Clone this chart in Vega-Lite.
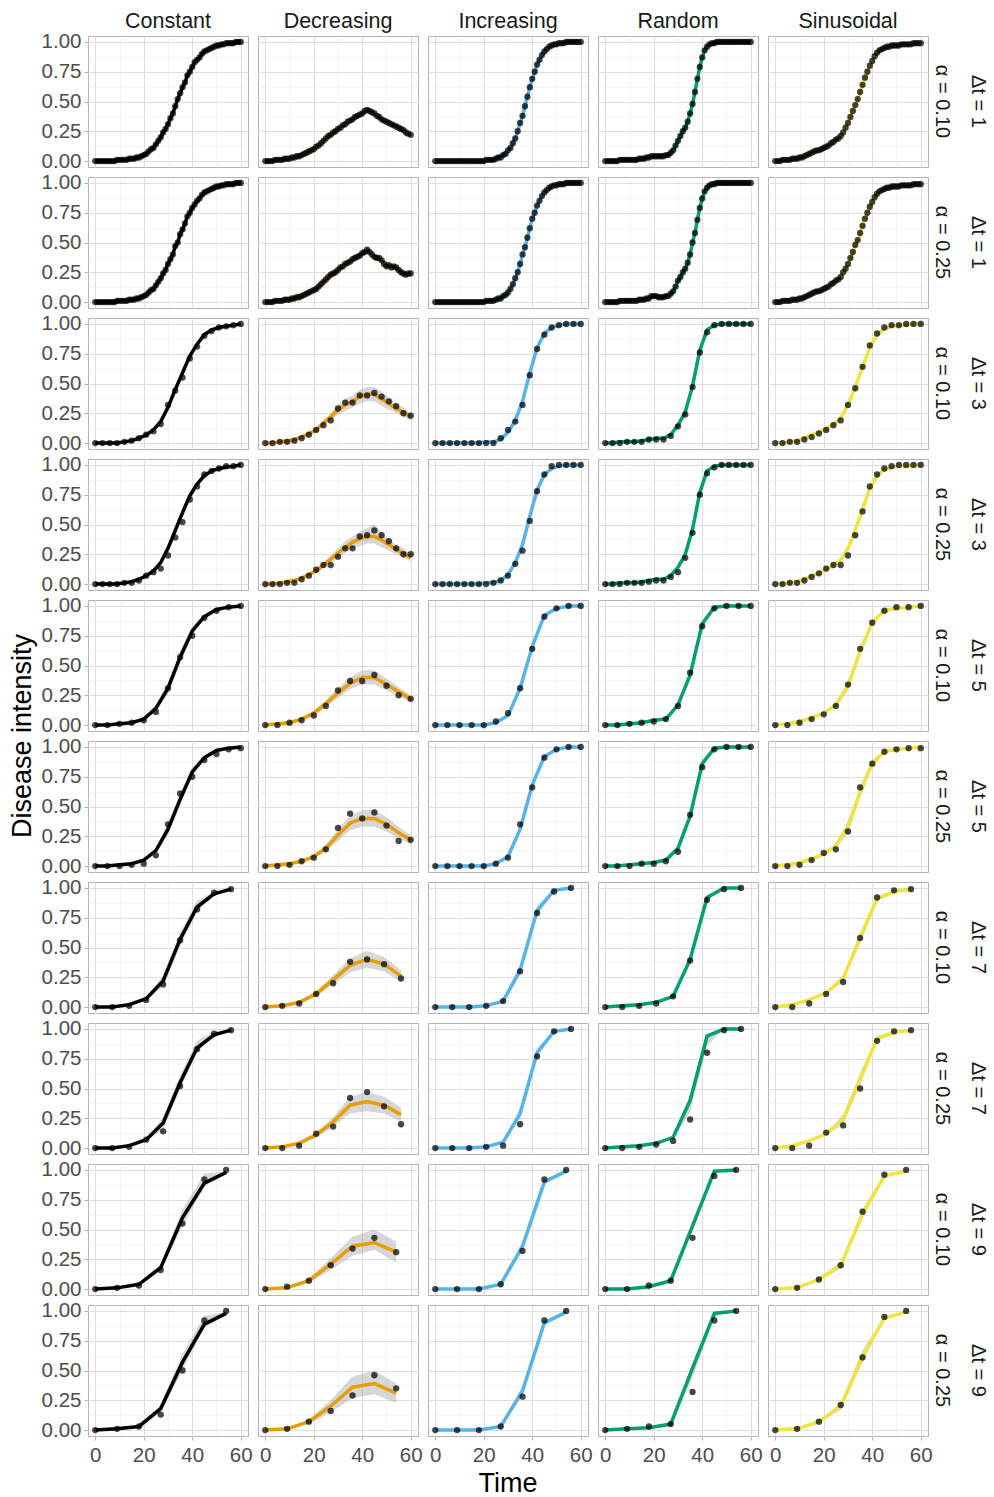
{
"$schema": "https://vega.github.io/schema/vega-lite/v6.json",
"background": "white",
"bounds": "flush",
"padding": {"left": 8, "top": 10, "right": 2, "bottom": 2},
"data": {"values": [
{"r":0,"p":"C","t":0,"y":0},{"r":0,"p":"C","t":1,"y":0},{"r":0,"p":"C","t":2,"y":0},{"r":0,"p":"C","t":3,"y":0},{"r":0,"p":"C","t":4,"y":0},{"r":0,"p":"C","t":5,"y":0},{"r":0,"p":"C","t":6,"y":0},{"r":0,"p":"C","t":7,"y":0},{"r":0,"p":"C","t":8,"y":0},{"r":0,"p":"C","t":9,"y":0.01},{"r":0,"p":"C","t":10,"y":0.01},{"r":0,"p":"C","t":11,"y":0.01},{"r":0,"p":"C","t":12,"y":0.01},{"r":0,"p":"C","t":13,"y":0.01},{"r":0,"p":"C","t":14,"y":0.02},{"r":0,"p":"C","t":15,"y":0.02},{"r":0,"p":"C","t":16,"y":0.02},{"r":0,"p":"C","t":17,"y":0.03},{"r":0,"p":"C","t":18,"y":0.03},{"r":0,"p":"C","t":19,"y":0.04},{"r":0,"p":"C","t":20,"y":0.05},{"r":0,"p":"C","t":21,"y":0.06},{"r":0,"p":"C","t":22,"y":0.08},{"r":0,"p":"C","t":23,"y":0.10},{"r":0,"p":"C","t":24,"y":0.11},{"r":0,"p":"C","t":25,"y":0.14},{"r":0,"p":"C","t":26,"y":0.17},{"r":0,"p":"C","t":27,"y":0.20},{"r":0,"p":"C","t":28,"y":0.24},{"r":0,"p":"C","t":29,"y":0.27},{"r":0,"p":"C","t":30,"y":0.31},{"r":0,"p":"C","t":31,"y":0.36},{"r":0,"p":"C","t":32,"y":0.40},{"r":0,"p":"C","t":33,"y":0.46},{"r":0,"p":"C","t":34,"y":0.52},{"r":0,"p":"C","t":35,"y":0.57},{"r":0,"p":"C","t":36,"y":0.62},{"r":0,"p":"C","t":37,"y":0.66},{"r":0,"p":"C","t":38,"y":0.72},{"r":0,"p":"C","t":39,"y":0.75},{"r":0,"p":"C","t":40,"y":0.79},{"r":0,"p":"C","t":41,"y":0.83},{"r":0,"p":"C","t":42,"y":0.85},{"r":0,"p":"C","t":43,"y":0.87},{"r":0,"p":"C","t":44,"y":0.90},{"r":0,"p":"C","t":45,"y":0.92},{"r":0,"p":"C","t":46,"y":0.93},{"r":0,"p":"C","t":47,"y":0.94},{"r":0,"p":"C","t":48,"y":0.95},{"r":0,"p":"C","t":49,"y":0.96},{"r":0,"p":"C","t":50,"y":0.97},{"r":0,"p":"C","t":51,"y":0.97},{"r":0,"p":"C","t":52,"y":0.98},{"r":0,"p":"C","t":53,"y":0.98},{"r":0,"p":"C","t":54,"y":0.99},{"r":0,"p":"C","t":55,"y":0.99},{"r":0,"p":"C","t":56,"y":0.99},{"r":0,"p":"C","t":57,"y":0.99},{"r":0,"p":"C","t":58,"y":1},{"r":0,"p":"C","t":59,"y":1},{"r":0,"p":"C","t":60,"y":1},
{"r":1,"p":"C","t":0,"y":0},{"r":1,"p":"C","t":1,"y":0},{"r":1,"p":"C","t":2,"y":0},{"r":1,"p":"C","t":3,"y":0},{"r":1,"p":"C","t":4,"y":0},{"r":1,"p":"C","t":5,"y":0},{"r":1,"p":"C","t":6,"y":0},{"r":1,"p":"C","t":7,"y":0},{"r":1,"p":"C","t":8,"y":0},{"r":1,"p":"C","t":9,"y":0.01},{"r":1,"p":"C","t":10,"y":0.01},{"r":1,"p":"C","t":11,"y":0.01},{"r":1,"p":"C","t":12,"y":0.01},{"r":1,"p":"C","t":13,"y":0.01},{"r":1,"p":"C","t":14,"y":0.02},{"r":1,"p":"C","t":15,"y":0.02},{"r":1,"p":"C","t":16,"y":0.02},{"r":1,"p":"C","t":17,"y":0.03},{"r":1,"p":"C","t":18,"y":0.03},{"r":1,"p":"C","t":19,"y":0.04},{"r":1,"p":"C","t":20,"y":0.05},{"r":1,"p":"C","t":21,"y":0.06},{"r":1,"p":"C","t":22,"y":0.08},{"r":1,"p":"C","t":23,"y":0.10},{"r":1,"p":"C","t":24,"y":0.11},{"r":1,"p":"C","t":25,"y":0.14},{"r":1,"p":"C","t":26,"y":0.17},{"r":1,"p":"C","t":27,"y":0.20},{"r":1,"p":"C","t":28,"y":0.24},{"r":1,"p":"C","t":29,"y":0.27},{"r":1,"p":"C","t":30,"y":0.32},{"r":1,"p":"C","t":31,"y":0.36},{"r":1,"p":"C","t":32,"y":0.40},{"r":1,"p":"C","t":33,"y":0.47},{"r":1,"p":"C","t":34,"y":0.50},{"r":1,"p":"C","t":35,"y":0.57},{"r":1,"p":"C","t":36,"y":0.61},{"r":1,"p":"C","t":37,"y":0.66},{"r":1,"p":"C","t":38,"y":0.72},{"r":1,"p":"C","t":39,"y":0.75},{"r":1,"p":"C","t":40,"y":0.79},{"r":1,"p":"C","t":41,"y":0.82},{"r":1,"p":"C","t":42,"y":0.85},{"r":1,"p":"C","t":43,"y":0.87},{"r":1,"p":"C","t":44,"y":0.90},{"r":1,"p":"C","t":45,"y":0.92},{"r":1,"p":"C","t":46,"y":0.93},{"r":1,"p":"C","t":47,"y":0.94},{"r":1,"p":"C","t":48,"y":0.95},{"r":1,"p":"C","t":49,"y":0.96},{"r":1,"p":"C","t":50,"y":0.97},{"r":1,"p":"C","t":51,"y":0.97},{"r":1,"p":"C","t":52,"y":0.98},{"r":1,"p":"C","t":53,"y":0.98},{"r":1,"p":"C","t":54,"y":0.99},{"r":1,"p":"C","t":55,"y":0.99},{"r":1,"p":"C","t":56,"y":0.99},{"r":1,"p":"C","t":57,"y":0.99},{"r":1,"p":"C","t":58,"y":1},{"r":1,"p":"C","t":59,"y":1},{"r":1,"p":"C","t":60,"y":1},
{"r":0,"p":"D","t":0,"y":0},{"r":0,"p":"D","t":1,"y":0},{"r":0,"p":"D","t":2,"y":0},{"r":0,"p":"D","t":3,"y":0},{"r":0,"p":"D","t":4,"y":0.01},{"r":0,"p":"D","t":5,"y":0.01},{"r":0,"p":"D","t":6,"y":0.01},{"r":0,"p":"D","t":7,"y":0.01},{"r":0,"p":"D","t":8,"y":0.02},{"r":0,"p":"D","t":9,"y":0.02},{"r":0,"p":"D","t":10,"y":0.02},{"r":0,"p":"D","t":11,"y":0.03},{"r":0,"p":"D","t":12,"y":0.03},{"r":0,"p":"D","t":13,"y":0.04},{"r":0,"p":"D","t":14,"y":0.04},{"r":0,"p":"D","t":15,"y":0.05},{"r":0,"p":"D","t":16,"y":0.06},{"r":0,"p":"D","t":17,"y":0.07},{"r":0,"p":"D","t":18,"y":0.08},{"r":0,"p":"D","t":19,"y":0.09},{"r":0,"p":"D","t":20,"y":0.10},{"r":0,"p":"D","t":21,"y":0.12},{"r":0,"p":"D","t":22,"y":0.13},{"r":0,"p":"D","t":23,"y":0.15},{"r":0,"p":"D","t":24,"y":0.17},{"r":0,"p":"D","t":25,"y":0.19},{"r":0,"p":"D","t":26,"y":0.21},{"r":0,"p":"D","t":27,"y":0.22},{"r":0,"p":"D","t":28,"y":0.24},{"r":0,"p":"D","t":29,"y":0.25},{"r":0,"p":"D","t":30,"y":0.27},{"r":0,"p":"D","t":31,"y":0.28},{"r":0,"p":"D","t":32,"y":0.30},{"r":0,"p":"D","t":33,"y":0.31},{"r":0,"p":"D","t":34,"y":0.33},{"r":0,"p":"D","t":35,"y":0.34},{"r":0,"p":"D","t":36,"y":0.35},{"r":0,"p":"D","t":37,"y":0.37},{"r":0,"p":"D","t":38,"y":0.38},{"r":0,"p":"D","t":39,"y":0.39},{"r":0,"p":"D","t":40,"y":0.40},{"r":0,"p":"D","t":41,"y":0.42},{"r":0,"p":"D","t":42,"y":0.43},{"r":0,"p":"D","t":43,"y":0.42},{"r":0,"p":"D","t":44,"y":0.41},{"r":0,"p":"D","t":45,"y":0.40},{"r":0,"p":"D","t":46,"y":0.38},{"r":0,"p":"D","t":47,"y":0.37},{"r":0,"p":"D","t":48,"y":0.35},{"r":0,"p":"D","t":49,"y":0.34},{"r":0,"p":"D","t":50,"y":0.33},{"r":0,"p":"D","t":51,"y":0.32},{"r":0,"p":"D","t":52,"y":0.31},{"r":0,"p":"D","t":53,"y":0.30},{"r":0,"p":"D","t":54,"y":0.29},{"r":0,"p":"D","t":55,"y":0.28},{"r":0,"p":"D","t":56,"y":0.27},{"r":0,"p":"D","t":57,"y":0.26},{"r":0,"p":"D","t":58,"y":0.24},{"r":0,"p":"D","t":59,"y":0.23},{"r":0,"p":"D","t":60,"y":0.22},
{"r":1,"p":"D","t":0,"y":0},{"r":1,"p":"D","t":1,"y":0},{"r":1,"p":"D","t":2,"y":0},{"r":1,"p":"D","t":3,"y":0},{"r":1,"p":"D","t":4,"y":0.01},{"r":1,"p":"D","t":5,"y":0.01},{"r":1,"p":"D","t":6,"y":0.01},{"r":1,"p":"D","t":7,"y":0.01},{"r":1,"p":"D","t":8,"y":0.02},{"r":1,"p":"D","t":9,"y":0.02},{"r":1,"p":"D","t":10,"y":0.02},{"r":1,"p":"D","t":11,"y":0.03},{"r":1,"p":"D","t":12,"y":0.03},{"r":1,"p":"D","t":13,"y":0.04},{"r":1,"p":"D","t":14,"y":0.04},{"r":1,"p":"D","t":15,"y":0.05},{"r":1,"p":"D","t":16,"y":0.06},{"r":1,"p":"D","t":17,"y":0.07},{"r":1,"p":"D","t":18,"y":0.08},{"r":1,"p":"D","t":19,"y":0.09},{"r":1,"p":"D","t":20,"y":0.10},{"r":1,"p":"D","t":21,"y":0.11},{"r":1,"p":"D","t":22,"y":0.13},{"r":1,"p":"D","t":23,"y":0.15},{"r":1,"p":"D","t":24,"y":0.17},{"r":1,"p":"D","t":25,"y":0.19},{"r":1,"p":"D","t":26,"y":0.21},{"r":1,"p":"D","t":27,"y":0.23},{"r":1,"p":"D","t":28,"y":0.24},{"r":1,"p":"D","t":29,"y":0.25},{"r":1,"p":"D","t":30,"y":0.27},{"r":1,"p":"D","t":31,"y":0.29},{"r":1,"p":"D","t":32,"y":0.30},{"r":1,"p":"D","t":33,"y":0.32},{"r":1,"p":"D","t":34,"y":0.33},{"r":1,"p":"D","t":35,"y":0.34},{"r":1,"p":"D","t":36,"y":0.36},{"r":1,"p":"D","t":37,"y":0.37},{"r":1,"p":"D","t":38,"y":0.38},{"r":1,"p":"D","t":39,"y":0.39},{"r":1,"p":"D","t":40,"y":0.41},{"r":1,"p":"D","t":41,"y":0.42},{"r":1,"p":"D","t":42,"y":0.44},{"r":1,"p":"D","t":43,"y":0.42},{"r":1,"p":"D","t":44,"y":0.40},{"r":1,"p":"D","t":45,"y":0.38},{"r":1,"p":"D","t":46,"y":0.37},{"r":1,"p":"D","t":47,"y":0.37},{"r":1,"p":"D","t":48,"y":0.35},{"r":1,"p":"D","t":49,"y":0.32},{"r":1,"p":"D","t":50,"y":0.30},{"r":1,"p":"D","t":51,"y":0.31},{"r":1,"p":"D","t":52,"y":0.29},{"r":1,"p":"D","t":53,"y":0.30},{"r":1,"p":"D","t":54,"y":0.29},{"r":1,"p":"D","t":55,"y":0.27},{"r":1,"p":"D","t":56,"y":0.25},{"r":1,"p":"D","t":57,"y":0.24},{"r":1,"p":"D","t":58,"y":0.23},{"r":1,"p":"D","t":59,"y":0.24},{"r":1,"p":"D","t":60,"y":0.24},
{"r":0,"p":"I","t":0,"y":0},{"r":0,"p":"I","t":1,"y":0},{"r":0,"p":"I","t":2,"y":0},{"r":0,"p":"I","t":3,"y":0},{"r":0,"p":"I","t":4,"y":0},{"r":0,"p":"I","t":5,"y":0},{"r":0,"p":"I","t":6,"y":0},{"r":0,"p":"I","t":7,"y":0},{"r":0,"p":"I","t":8,"y":0},{"r":0,"p":"I","t":9,"y":0},{"r":0,"p":"I","t":10,"y":0},{"r":0,"p":"I","t":11,"y":0},{"r":0,"p":"I","t":12,"y":0},{"r":0,"p":"I","t":13,"y":0},{"r":0,"p":"I","t":14,"y":0},{"r":0,"p":"I","t":15,"y":0},{"r":0,"p":"I","t":16,"y":0},{"r":0,"p":"I","t":17,"y":0},{"r":0,"p":"I","t":18,"y":0},{"r":0,"p":"I","t":19,"y":0},{"r":0,"p":"I","t":20,"y":0},{"r":0,"p":"I","t":21,"y":0.01},{"r":0,"p":"I","t":22,"y":0.01},{"r":0,"p":"I","t":23,"y":0.01},{"r":0,"p":"I","t":24,"y":0.01},{"r":0,"p":"I","t":25,"y":0.02},{"r":0,"p":"I","t":26,"y":0.03},{"r":0,"p":"I","t":27,"y":0.03},{"r":0,"p":"I","t":28,"y":0.05},{"r":0,"p":"I","t":29,"y":0.06},{"r":0,"p":"I","t":30,"y":0.09},{"r":0,"p":"I","t":31,"y":0.11},{"r":0,"p":"I","t":32,"y":0.15},{"r":0,"p":"I","t":33,"y":0.19},{"r":0,"p":"I","t":34,"y":0.25},{"r":0,"p":"I","t":35,"y":0.32},{"r":0,"p":"I","t":36,"y":0.38},{"r":0,"p":"I","t":37,"y":0.46},{"r":0,"p":"I","t":38,"y":0.54},{"r":0,"p":"I","t":39,"y":0.62},{"r":0,"p":"I","t":40,"y":0.69},{"r":0,"p":"I","t":41,"y":0.75},{"r":0,"p":"I","t":42,"y":0.81},{"r":0,"p":"I","t":43,"y":0.85},{"r":0,"p":"I","t":44,"y":0.89},{"r":0,"p":"I","t":45,"y":0.92},{"r":0,"p":"I","t":46,"y":0.94},{"r":0,"p":"I","t":47,"y":0.96},{"r":0,"p":"I","t":48,"y":0.97},{"r":0,"p":"I","t":49,"y":0.98},{"r":0,"p":"I","t":50,"y":0.98},{"r":0,"p":"I","t":51,"y":0.99},{"r":0,"p":"I","t":52,"y":0.99},{"r":0,"p":"I","t":53,"y":0.99},{"r":0,"p":"I","t":54,"y":1},{"r":0,"p":"I","t":55,"y":1},{"r":0,"p":"I","t":56,"y":1},{"r":0,"p":"I","t":57,"y":1},{"r":0,"p":"I","t":58,"y":1},{"r":0,"p":"I","t":59,"y":1},{"r":0,"p":"I","t":60,"y":1},
{"r":1,"p":"I","t":0,"y":0},{"r":1,"p":"I","t":1,"y":0},{"r":1,"p":"I","t":2,"y":0},{"r":1,"p":"I","t":3,"y":0},{"r":1,"p":"I","t":4,"y":0},{"r":1,"p":"I","t":5,"y":0},{"r":1,"p":"I","t":6,"y":0},{"r":1,"p":"I","t":7,"y":0},{"r":1,"p":"I","t":8,"y":0},{"r":1,"p":"I","t":9,"y":0},{"r":1,"p":"I","t":10,"y":0},{"r":1,"p":"I","t":11,"y":0},{"r":1,"p":"I","t":12,"y":0},{"r":1,"p":"I","t":13,"y":0},{"r":1,"p":"I","t":14,"y":0},{"r":1,"p":"I","t":15,"y":0},{"r":1,"p":"I","t":16,"y":0},{"r":1,"p":"I","t":17,"y":0},{"r":1,"p":"I","t":18,"y":0},{"r":1,"p":"I","t":19,"y":0},{"r":1,"p":"I","t":20,"y":0},{"r":1,"p":"I","t":21,"y":0.01},{"r":1,"p":"I","t":22,"y":0.01},{"r":1,"p":"I","t":23,"y":0.01},{"r":1,"p":"I","t":24,"y":0.01},{"r":1,"p":"I","t":25,"y":0.02},{"r":1,"p":"I","t":26,"y":0.03},{"r":1,"p":"I","t":27,"y":0.03},{"r":1,"p":"I","t":28,"y":0.05},{"r":1,"p":"I","t":29,"y":0.06},{"r":1,"p":"I","t":30,"y":0.08},{"r":1,"p":"I","t":31,"y":0.11},{"r":1,"p":"I","t":32,"y":0.15},{"r":1,"p":"I","t":33,"y":0.20},{"r":1,"p":"I","t":34,"y":0.25},{"r":1,"p":"I","t":35,"y":0.32},{"r":1,"p":"I","t":36,"y":0.40},{"r":1,"p":"I","t":37,"y":0.46},{"r":1,"p":"I","t":38,"y":0.54},{"r":1,"p":"I","t":39,"y":0.62},{"r":1,"p":"I","t":40,"y":0.70},{"r":1,"p":"I","t":41,"y":0.75},{"r":1,"p":"I","t":42,"y":0.81},{"r":1,"p":"I","t":43,"y":0.85},{"r":1,"p":"I","t":44,"y":0.89},{"r":1,"p":"I","t":45,"y":0.92},{"r":1,"p":"I","t":46,"y":0.94},{"r":1,"p":"I","t":47,"y":0.96},{"r":1,"p":"I","t":48,"y":0.97},{"r":1,"p":"I","t":49,"y":0.98},{"r":1,"p":"I","t":50,"y":0.98},{"r":1,"p":"I","t":51,"y":0.99},{"r":1,"p":"I","t":52,"y":0.99},{"r":1,"p":"I","t":53,"y":0.99},{"r":1,"p":"I","t":54,"y":1},{"r":1,"p":"I","t":55,"y":1},{"r":1,"p":"I","t":56,"y":1},{"r":1,"p":"I","t":57,"y":1},{"r":1,"p":"I","t":58,"y":1},{"r":1,"p":"I","t":59,"y":1},{"r":1,"p":"I","t":60,"y":1},
{"r":0,"p":"R","t":0,"y":0},{"r":0,"p":"R","t":1,"y":0},{"r":0,"p":"R","t":2,"y":0},{"r":0,"p":"R","t":3,"y":0},{"r":0,"p":"R","t":4,"y":0},{"r":0,"p":"R","t":5,"y":0},{"r":0,"p":"R","t":6,"y":0.01},{"r":0,"p":"R","t":7,"y":0.01},{"r":0,"p":"R","t":8,"y":0.01},{"r":0,"p":"R","t":9,"y":0.01},{"r":0,"p":"R","t":10,"y":0.01},{"r":0,"p":"R","t":11,"y":0.01},{"r":0,"p":"R","t":12,"y":0.01},{"r":0,"p":"R","t":13,"y":0.01},{"r":0,"p":"R","t":14,"y":0.02},{"r":0,"p":"R","t":15,"y":0.02},{"r":0,"p":"R","t":16,"y":0.02},{"r":0,"p":"R","t":17,"y":0.03},{"r":0,"p":"R","t":18,"y":0.03},{"r":0,"p":"R","t":19,"y":0.04},{"r":0,"p":"R","t":20,"y":0.04},{"r":0,"p":"R","t":21,"y":0.04},{"r":0,"p":"R","t":22,"y":0.04},{"r":0,"p":"R","t":23,"y":0.04},{"r":0,"p":"R","t":24,"y":0.04},{"r":0,"p":"R","t":25,"y":0.05},{"r":0,"p":"R","t":26,"y":0.05},{"r":0,"p":"R","t":27,"y":0.07},{"r":0,"p":"R","t":28,"y":0.09},{"r":0,"p":"R","t":29,"y":0.13},{"r":0,"p":"R","t":30,"y":0.17},{"r":0,"p":"R","t":31,"y":0.21},{"r":0,"p":"R","t":32,"y":0.25},{"r":0,"p":"R","t":33,"y":0.28},{"r":0,"p":"R","t":34,"y":0.33},{"r":0,"p":"R","t":35,"y":0.40},{"r":0,"p":"R","t":36,"y":0.48},{"r":0,"p":"R","t":37,"y":0.58},{"r":0,"p":"R","t":38,"y":0.69},{"r":0,"p":"R","t":39,"y":0.79},{"r":0,"p":"R","t":40,"y":0.87},{"r":0,"p":"R","t":41,"y":0.93},{"r":0,"p":"R","t":42,"y":0.96},{"r":0,"p":"R","t":43,"y":0.98},{"r":0,"p":"R","t":44,"y":0.99},{"r":0,"p":"R","t":45,"y":0.99},{"r":0,"p":"R","t":46,"y":1},{"r":0,"p":"R","t":47,"y":1},{"r":0,"p":"R","t":48,"y":1},{"r":0,"p":"R","t":49,"y":1},{"r":0,"p":"R","t":50,"y":1},{"r":0,"p":"R","t":51,"y":1},{"r":0,"p":"R","t":52,"y":1},{"r":0,"p":"R","t":53,"y":1},{"r":0,"p":"R","t":54,"y":1},{"r":0,"p":"R","t":55,"y":1},{"r":0,"p":"R","t":56,"y":1},{"r":0,"p":"R","t":57,"y":1},{"r":0,"p":"R","t":58,"y":1},{"r":0,"p":"R","t":59,"y":1},{"r":0,"p":"R","t":60,"y":1},
{"r":1,"p":"R","t":0,"y":0},{"r":1,"p":"R","t":1,"y":0},{"r":1,"p":"R","t":2,"y":0},{"r":1,"p":"R","t":3,"y":0},{"r":1,"p":"R","t":4,"y":0},{"r":1,"p":"R","t":5,"y":0},{"r":1,"p":"R","t":6,"y":0.01},{"r":1,"p":"R","t":7,"y":0.01},{"r":1,"p":"R","t":8,"y":0.01},{"r":1,"p":"R","t":9,"y":0.01},{"r":1,"p":"R","t":10,"y":0.01},{"r":1,"p":"R","t":11,"y":0.01},{"r":1,"p":"R","t":12,"y":0.01},{"r":1,"p":"R","t":13,"y":0.01},{"r":1,"p":"R","t":14,"y":0.02},{"r":1,"p":"R","t":15,"y":0.02},{"r":1,"p":"R","t":16,"y":0.02},{"r":1,"p":"R","t":17,"y":0.03},{"r":1,"p":"R","t":18,"y":0.03},{"r":1,"p":"R","t":19,"y":0.05},{"r":1,"p":"R","t":20,"y":0.05},{"r":1,"p":"R","t":21,"y":0.05},{"r":1,"p":"R","t":22,"y":0.04},{"r":1,"p":"R","t":23,"y":0.04},{"r":1,"p":"R","t":24,"y":0.04},{"r":1,"p":"R","t":25,"y":0.05},{"r":1,"p":"R","t":26,"y":0.05},{"r":1,"p":"R","t":27,"y":0.07},{"r":1,"p":"R","t":28,"y":0.09},{"r":1,"p":"R","t":29,"y":0.13},{"r":1,"p":"R","t":30,"y":0.18},{"r":1,"p":"R","t":31,"y":0.21},{"r":1,"p":"R","t":32,"y":0.25},{"r":1,"p":"R","t":33,"y":0.28},{"r":1,"p":"R","t":34,"y":0.33},{"r":1,"p":"R","t":35,"y":0.40},{"r":1,"p":"R","t":36,"y":0.50},{"r":1,"p":"R","t":37,"y":0.58},{"r":1,"p":"R","t":38,"y":0.69},{"r":1,"p":"R","t":39,"y":0.79},{"r":1,"p":"R","t":40,"y":0.87},{"r":1,"p":"R","t":41,"y":0.93},{"r":1,"p":"R","t":42,"y":0.96},{"r":1,"p":"R","t":43,"y":0.98},{"r":1,"p":"R","t":44,"y":0.99},{"r":1,"p":"R","t":45,"y":0.99},{"r":1,"p":"R","t":46,"y":1},{"r":1,"p":"R","t":47,"y":1},{"r":1,"p":"R","t":48,"y":1},{"r":1,"p":"R","t":49,"y":1},{"r":1,"p":"R","t":50,"y":1},{"r":1,"p":"R","t":51,"y":1},{"r":1,"p":"R","t":52,"y":1},{"r":1,"p":"R","t":53,"y":1},{"r":1,"p":"R","t":54,"y":1},{"r":1,"p":"R","t":55,"y":1},{"r":1,"p":"R","t":56,"y":1},{"r":1,"p":"R","t":57,"y":1},{"r":1,"p":"R","t":58,"y":1},{"r":1,"p":"R","t":59,"y":1},{"r":1,"p":"R","t":60,"y":1},
{"r":0,"p":"S","t":0,"y":0},{"r":0,"p":"S","t":1,"y":0},{"r":0,"p":"S","t":2,"y":0},{"r":0,"p":"S","t":3,"y":0.01},{"r":0,"p":"S","t":4,"y":0.01},{"r":0,"p":"S","t":5,"y":0.01},{"r":0,"p":"S","t":6,"y":0.01},{"r":0,"p":"S","t":7,"y":0.02},{"r":0,"p":"S","t":8,"y":0.02},{"r":0,"p":"S","t":9,"y":0.02},{"r":0,"p":"S","t":10,"y":0.03},{"r":0,"p":"S","t":11,"y":0.03},{"r":0,"p":"S","t":12,"y":0.04},{"r":0,"p":"S","t":13,"y":0.05},{"r":0,"p":"S","t":14,"y":0.06},{"r":0,"p":"S","t":15,"y":0.07},{"r":0,"p":"S","t":16,"y":0.08},{"r":0,"p":"S","t":17,"y":0.09},{"r":0,"p":"S","t":18,"y":0.09},{"r":0,"p":"S","t":19,"y":0.10},{"r":0,"p":"S","t":20,"y":0.11},{"r":0,"p":"S","t":21,"y":0.12},{"r":0,"p":"S","t":22,"y":0.13},{"r":0,"p":"S","t":23,"y":0.15},{"r":0,"p":"S","t":24,"y":0.16},{"r":0,"p":"S","t":25,"y":0.18},{"r":0,"p":"S","t":26,"y":0.19},{"r":0,"p":"S","t":27,"y":0.21},{"r":0,"p":"S","t":28,"y":0.24},{"r":0,"p":"S","t":29,"y":0.28},{"r":0,"p":"S","t":30,"y":0.32},{"r":0,"p":"S","t":31,"y":0.37},{"r":0,"p":"S","t":32,"y":0.42},{"r":0,"p":"S","t":33,"y":0.47},{"r":0,"p":"S","t":34,"y":0.52},{"r":0,"p":"S","t":35,"y":0.58},{"r":0,"p":"S","t":36,"y":0.64},{"r":0,"p":"S","t":37,"y":0.70},{"r":0,"p":"S","t":38,"y":0.75},{"r":0,"p":"S","t":39,"y":0.80},{"r":0,"p":"S","t":40,"y":0.84},{"r":0,"p":"S","t":41,"y":0.88},{"r":0,"p":"S","t":42,"y":0.91},{"r":0,"p":"S","t":43,"y":0.93},{"r":0,"p":"S","t":44,"y":0.94},{"r":0,"p":"S","t":45,"y":0.95},{"r":0,"p":"S","t":46,"y":0.96},{"r":0,"p":"S","t":47,"y":0.96},{"r":0,"p":"S","t":48,"y":0.97},{"r":0,"p":"S","t":49,"y":0.97},{"r":0,"p":"S","t":50,"y":0.97},{"r":0,"p":"S","t":51,"y":0.97},{"r":0,"p":"S","t":52,"y":0.98},{"r":0,"p":"S","t":53,"y":0.98},{"r":0,"p":"S","t":54,"y":0.98},{"r":0,"p":"S","t":55,"y":0.98},{"r":0,"p":"S","t":56,"y":0.98},{"r":0,"p":"S","t":57,"y":0.99},{"r":0,"p":"S","t":58,"y":0.99},{"r":0,"p":"S","t":59,"y":0.99},{"r":0,"p":"S","t":60,"y":0.99},
{"r":1,"p":"S","t":0,"y":0},{"r":1,"p":"S","t":1,"y":0},{"r":1,"p":"S","t":2,"y":0},{"r":1,"p":"S","t":3,"y":0.01},{"r":1,"p":"S","t":4,"y":0.01},{"r":1,"p":"S","t":5,"y":0.01},{"r":1,"p":"S","t":6,"y":0.01},{"r":1,"p":"S","t":7,"y":0.02},{"r":1,"p":"S","t":8,"y":0.02},{"r":1,"p":"S","t":9,"y":0.02},{"r":1,"p":"S","t":10,"y":0.03},{"r":1,"p":"S","t":11,"y":0.03},{"r":1,"p":"S","t":12,"y":0.04},{"r":1,"p":"S","t":13,"y":0.05},{"r":1,"p":"S","t":14,"y":0.06},{"r":1,"p":"S","t":15,"y":0.07},{"r":1,"p":"S","t":16,"y":0.08},{"r":1,"p":"S","t":17,"y":0.09},{"r":1,"p":"S","t":18,"y":0.09},{"r":1,"p":"S","t":19,"y":0.10},{"r":1,"p":"S","t":20,"y":0.11},{"r":1,"p":"S","t":21,"y":0.12},{"r":1,"p":"S","t":22,"y":0.13},{"r":1,"p":"S","t":23,"y":0.15},{"r":1,"p":"S","t":24,"y":0.16},{"r":1,"p":"S","t":25,"y":0.18},{"r":1,"p":"S","t":26,"y":0.19},{"r":1,"p":"S","t":27,"y":0.21},{"r":1,"p":"S","t":28,"y":0.25},{"r":1,"p":"S","t":29,"y":0.28},{"r":1,"p":"S","t":30,"y":0.32},{"r":1,"p":"S","t":31,"y":0.37},{"r":1,"p":"S","t":32,"y":0.42},{"r":1,"p":"S","t":33,"y":0.48},{"r":1,"p":"S","t":34,"y":0.52},{"r":1,"p":"S","t":35,"y":0.58},{"r":1,"p":"S","t":36,"y":0.64},{"r":1,"p":"S","t":37,"y":0.70},{"r":1,"p":"S","t":38,"y":0.75},{"r":1,"p":"S","t":39,"y":0.80},{"r":1,"p":"S","t":40,"y":0.84},{"r":1,"p":"S","t":41,"y":0.88},{"r":1,"p":"S","t":42,"y":0.91},{"r":1,"p":"S","t":43,"y":0.93},{"r":1,"p":"S","t":44,"y":0.94},{"r":1,"p":"S","t":45,"y":0.95},{"r":1,"p":"S","t":46,"y":0.96},{"r":1,"p":"S","t":47,"y":0.96},{"r":1,"p":"S","t":48,"y":0.97},{"r":1,"p":"S","t":49,"y":0.97},{"r":1,"p":"S","t":50,"y":0.97},{"r":1,"p":"S","t":51,"y":0.97},{"r":1,"p":"S","t":52,"y":0.98},{"r":1,"p":"S","t":53,"y":0.98},{"r":1,"p":"S","t":54,"y":0.98},{"r":1,"p":"S","t":55,"y":0.98},{"r":1,"p":"S","t":56,"y":0.98},{"r":1,"p":"S","t":57,"y":0.99},{"r":1,"p":"S","t":58,"y":0.99},{"r":1,"p":"S","t":59,"y":0.99},{"r":1,"p":"S","t":60,"y":0.99},
{"r":2,"p":"C","t":0,"y":0,"f":0,"l":0,"h":0},{"r":2,"p":"C","t":3,"y":0,"f":0,"l":0,"h":0},{"r":2,"p":"C","t":6,"y":0,"f":0,"l":0,"h":0},{"r":2,"p":"C","t":9,"y":0,"f":0,"l":0,"h":0},{"r":2,"p":"C","t":12,"y":0.01,"f":0.01,"l":0.01,"h":0.01},{"r":2,"p":"C","t":15,"y":0.02,"f":0.02,"l":0.02,"h":0.02},{"r":2,"p":"C","t":18,"y":0.04,"f":0.04,"l":0.03,"h":0.05},{"r":2,"p":"C","t":21,"y":0.07,"f":0.07,"l":0.06,"h":0.08},{"r":2,"p":"C","t":24,"y":0.10,"f":0.11,"l":0.10,"h":0.13},{"r":2,"p":"C","t":27,"y":0.16,"f":0.18,"l":0.17,"h":0.20},{"r":2,"p":"C","t":30,"y":0.32,"f":0.30,"l":0.27,"h":0.33},{"r":2,"p":"C","t":33,"y":0.44,"f":0.45,"l":0.42,"h":0.48},{"r":2,"p":"C","t":36,"y":0.55,"f":0.59,"l":0.56,"h":0.62},{"r":2,"p":"C","t":39,"y":0.71,"f":0.73,"l":0.71,"h":0.75},{"r":2,"p":"C","t":42,"y":0.81,"f":0.83,"l":0.82,"h":0.85},{"r":2,"p":"C","t":45,"y":0.90,"f":0.91,"l":0.90,"h":0.92},{"r":2,"p":"C","t":48,"y":0.94,"f":0.95,"l":0.94,"h":0.96},{"r":2,"p":"C","t":51,"y":0.97,"f":0.97,"l":0.97,"h":0.97},{"r":2,"p":"C","t":54,"y":0.98,"f":0.98,"l":0.98,"h":0.98},{"r":2,"p":"C","t":57,"y":0.99,"f":0.99,"l":0.99,"h":0.99},{"r":2,"p":"C","t":60,"y":1,"f":1,"l":1,"h":1},
{"r":2,"p":"D","t":0,"y":0,"f":0,"l":0,"h":0},{"r":2,"p":"D","t":3,"y":0,"f":0,"l":0,"h":0},{"r":2,"p":"D","t":6,"y":0.01,"f":0.01,"l":0.01,"h":0.01},{"r":2,"p":"D","t":9,"y":0.01,"f":0.02,"l":0.02,"h":0.02},{"r":2,"p":"D","t":12,"y":0.02,"f":0.03,"l":0.03,"h":0.03},{"r":2,"p":"D","t":15,"y":0.04,"f":0.05,"l":0.04,"h":0.06},{"r":2,"p":"D","t":18,"y":0.07,"f":0.08,"l":0.07,"h":0.09},{"r":2,"p":"D","t":21,"y":0.11,"f":0.11,"l":0.10,"h":0.12},{"r":2,"p":"D","t":24,"y":0.15,"f":0.17,"l":0.15,"h":0.19},{"r":2,"p":"D","t":27,"y":0.19,"f":0.22,"l":0.19,"h":0.25},{"r":2,"p":"D","t":30,"y":0.29,"f":0.28,"l":0.24,"h":0.32},{"r":2,"p":"D","t":33,"y":0.34,"f":0.32,"l":0.27,"h":0.37},{"r":2,"p":"D","t":36,"y":0.34,"f":0.35,"l":0.30,"h":0.40},{"r":2,"p":"D","t":39,"y":0.40,"f":0.39,"l":0.33,"h":0.45},{"r":2,"p":"D","t":42,"y":0.40,"f":0.41,"l":0.35,"h":0.47},{"r":2,"p":"D","t":45,"y":0.42,"f":0.41,"l":0.35,"h":0.47},{"r":2,"p":"D","t":48,"y":0.39,"f":0.37,"l":0.31,"h":0.43},{"r":2,"p":"D","t":51,"y":0.35,"f":0.33,"l":0.28,"h":0.38},{"r":2,"p":"D","t":54,"y":0.31,"f":0.29,"l":0.25,"h":0.33},{"r":2,"p":"D","t":57,"y":0.25,"f":0.26,"l":0.22,"h":0.30},{"r":2,"p":"D","t":60,"y":0.23,"f":0.22,"l":0.19,"h":0.25},
{"r":2,"p":"I","t":0,"y":0,"f":0,"l":0,"h":0},{"r":2,"p":"I","t":3,"y":0,"f":0,"l":0,"h":0},{"r":2,"p":"I","t":6,"y":0,"f":0,"l":0,"h":0},{"r":2,"p":"I","t":9,"y":0,"f":0,"l":0,"h":0},{"r":2,"p":"I","t":12,"y":0,"f":0,"l":0,"h":0},{"r":2,"p":"I","t":15,"y":0,"f":0,"l":0,"h":0},{"r":2,"p":"I","t":18,"y":0,"f":0,"l":0,"h":0},{"r":2,"p":"I","t":21,"y":0,"f":0.01,"l":0.01,"h":0.01},{"r":2,"p":"I","t":24,"y":0,"f":0.01,"l":0.01,"h":0.01},{"r":2,"p":"I","t":27,"y":0.04,"f":0.03,"l":0.03,"h":0.03},{"r":2,"p":"I","t":30,"y":0.11,"f":0.09,"l":0.08,"h":0.10},{"r":2,"p":"I","t":33,"y":0.18,"f":0.19,"l":0.18,"h":0.20},{"r":2,"p":"I","t":36,"y":0.32,"f":0.35,"l":0.33,"h":0.37},{"r":2,"p":"I","t":39,"y":0.57,"f":0.59,"l":0.57,"h":0.61},{"r":2,"p":"I","t":42,"y":0.79,"f":0.80,"l":0.78,"h":0.82},{"r":2,"p":"I","t":45,"y":0.91,"f":0.92,"l":0.91,"h":0.93},{"r":2,"p":"I","t":48,"y":0.97,"f":0.97,"l":0.97,"h":0.97},{"r":2,"p":"I","t":51,"y":0.99,"f":0.99,"l":0.99,"h":0.99},{"r":2,"p":"I","t":54,"y":1,"f":1,"l":1,"h":1},{"r":2,"p":"I","t":57,"y":1,"f":1,"l":1,"h":1},{"r":2,"p":"I","t":60,"y":1,"f":1,"l":1,"h":1},
{"r":2,"p":"R","t":0,"y":0,"f":0,"l":0,"h":0},{"r":2,"p":"R","t":3,"y":0,"f":0,"l":0,"h":0},{"r":2,"p":"R","t":6,"y":0,"f":0.01,"l":0.01,"h":0.01},{"r":2,"p":"R","t":9,"y":0.01,"f":0.01,"l":0.01,"h":0.01},{"r":2,"p":"R","t":12,"y":0.01,"f":0.01,"l":0.01,"h":0.01},{"r":2,"p":"R","t":15,"y":0.01,"f":0.02,"l":0.02,"h":0.02},{"r":2,"p":"R","t":18,"y":0.03,"f":0.03,"l":0.03,"h":0.03},{"r":2,"p":"R","t":21,"y":0.03,"f":0.04,"l":0.04,"h":0.04},{"r":2,"p":"R","t":24,"y":0.03,"f":0.04,"l":0.04,"h":0.04},{"r":2,"p":"R","t":27,"y":0.06,"f":0.07,"l":0.06,"h":0.08},{"r":2,"p":"R","t":30,"y":0.14,"f":0.15,"l":0.14,"h":0.16},{"r":2,"p":"R","t":33,"y":0.24,"f":0.26,"l":0.24,"h":0.28},{"r":2,"p":"R","t":36,"y":0.47,"f":0.48,"l":0.46,"h":0.50},{"r":2,"p":"R","t":39,"y":0.76,"f":0.78,"l":0.76,"h":0.80},{"r":2,"p":"R","t":42,"y":0.93,"f":0.95,"l":0.94,"h":0.96},{"r":2,"p":"R","t":45,"y":0.99,"f":0.99,"l":0.99,"h":0.99},{"r":2,"p":"R","t":48,"y":1,"f":1,"l":1,"h":1},{"r":2,"p":"R","t":51,"y":1,"f":1,"l":1,"h":1},{"r":2,"p":"R","t":54,"y":1,"f":1,"l":1,"h":1},{"r":2,"p":"R","t":57,"y":1,"f":1,"l":1,"h":1},{"r":2,"p":"R","t":60,"y":1,"f":1,"l":1,"h":1},
{"r":2,"p":"S","t":0,"y":0,"f":0,"l":0,"h":0},{"r":2,"p":"S","t":3,"y":0,"f":0,"l":0,"h":0},{"r":2,"p":"S","t":6,"y":0.01,"f":0.01,"l":0.01,"h":0.01},{"r":2,"p":"S","t":9,"y":0.01,"f":0.02,"l":0.02,"h":0.02},{"r":2,"p":"S","t":12,"y":0.03,"f":0.04,"l":0.04,"h":0.04},{"r":2,"p":"S","t":15,"y":0.05,"f":0.07,"l":0.07,"h":0.07},{"r":2,"p":"S","t":18,"y":0.08,"f":0.09,"l":0.09,"h":0.09},{"r":2,"p":"S","t":21,"y":0.11,"f":0.12,"l":0.11,"h":0.13},{"r":2,"p":"S","t":24,"y":0.15,"f":0.16,"l":0.15,"h":0.17},{"r":2,"p":"S","t":27,"y":0.19,"f":0.21,"l":0.19,"h":0.23},{"r":2,"p":"S","t":30,"y":0.32,"f":0.32,"l":0.30,"h":0.34},{"r":2,"p":"S","t":33,"y":0.46,"f":0.47,"l":0.45,"h":0.49},{"r":2,"p":"S","t":36,"y":0.64,"f":0.64,"l":0.62,"h":0.66},{"r":2,"p":"S","t":39,"y":0.82,"f":0.80,"l":0.78,"h":0.82},{"r":2,"p":"S","t":42,"y":0.92,"f":0.91,"l":0.90,"h":0.92},{"r":2,"p":"S","t":45,"y":0.97,"f":0.96,"l":0.96,"h":0.96},{"r":2,"p":"S","t":48,"y":0.99,"f":0.98,"l":0.98,"h":0.98},{"r":2,"p":"S","t":51,"y":0.99,"f":0.99,"l":0.99,"h":0.99},{"r":2,"p":"S","t":54,"y":1,"f":0.99,"l":0.99,"h":0.99},{"r":2,"p":"S","t":57,"y":1,"f":1,"l":1,"h":1},{"r":2,"p":"S","t":60,"y":1,"f":1,"l":1,"h":1},
{"r":3,"p":"C","t":0,"y":0,"f":0,"l":0,"h":0},{"r":3,"p":"C","t":3,"y":0,"f":0,"l":0,"h":0},{"r":3,"p":"C","t":6,"y":0,"f":0,"l":0,"h":0},{"r":3,"p":"C","t":9,"y":0,"f":0,"l":0,"h":0},{"r":3,"p":"C","t":12,"y":0.01,"f":0.01,"l":0.01,"h":0.01},{"r":3,"p":"C","t":15,"y":0.01,"f":0.02,"l":0.02,"h":0.02},{"r":3,"p":"C","t":18,"y":0.03,"f":0.04,"l":0.03,"h":0.05},{"r":3,"p":"C","t":21,"y":0.07,"f":0.07,"l":0.06,"h":0.08},{"r":3,"p":"C","t":24,"y":0.10,"f":0.11,"l":0.09,"h":0.13},{"r":3,"p":"C","t":27,"y":0.13,"f":0.18,"l":0.16,"h":0.20},{"r":3,"p":"C","t":30,"y":0.24,"f":0.30,"l":0.26,"h":0.34},{"r":3,"p":"C","t":33,"y":0.39,"f":0.45,"l":0.41,"h":0.49},{"r":3,"p":"C","t":36,"y":0.52,"f":0.60,"l":0.56,"h":0.64},{"r":3,"p":"C","t":39,"y":0.71,"f":0.74,"l":0.71,"h":0.77},{"r":3,"p":"C","t":42,"y":0.82,"f":0.84,"l":0.82,"h":0.86},{"r":3,"p":"C","t":45,"y":0.92,"f":0.91,"l":0.90,"h":0.92},{"r":3,"p":"C","t":48,"y":0.95,"f":0.95,"l":0.94,"h":0.96},{"r":3,"p":"C","t":51,"y":0.97,"f":0.97,"l":0.97,"h":0.97},{"r":3,"p":"C","t":54,"y":0.99,"f":0.98,"l":0.98,"h":0.98},{"r":3,"p":"C","t":57,"y":0.99,"f":0.99,"l":0.99,"h":0.99},{"r":3,"p":"C","t":60,"y":1,"f":1,"l":1,"h":1},
{"r":3,"p":"D","t":0,"y":0,"f":0,"l":0,"h":0},{"r":3,"p":"D","t":3,"y":0,"f":0,"l":0,"h":0},{"r":3,"p":"D","t":6,"y":0,"f":0.01,"l":0.01,"h":0.01},{"r":3,"p":"D","t":9,"y":0.01,"f":0.02,"l":0.02,"h":0.02},{"r":3,"p":"D","t":12,"y":0.01,"f":0.03,"l":0.03,"h":0.03},{"r":3,"p":"D","t":15,"y":0.04,"f":0.05,"l":0.04,"h":0.06},{"r":3,"p":"D","t":18,"y":0.07,"f":0.08,"l":0.07,"h":0.09},{"r":3,"p":"D","t":21,"y":0.12,"f":0.11,"l":0.09,"h":0.13},{"r":3,"p":"D","t":24,"y":0.16,"f":0.16,"l":0.14,"h":0.18},{"r":3,"p":"D","t":27,"y":0.16,"f":0.21,"l":0.18,"h":0.24},{"r":3,"p":"D","t":30,"y":0.23,"f":0.26,"l":0.22,"h":0.30},{"r":3,"p":"D","t":33,"y":0.30,"f":0.31,"l":0.26,"h":0.36},{"r":3,"p":"D","t":36,"y":0.30,"f":0.35,"l":0.30,"h":0.40},{"r":3,"p":"D","t":39,"y":0.40,"f":0.38,"l":0.32,"h":0.44},{"r":3,"p":"D","t":42,"y":0.41,"f":0.40,"l":0.34,"h":0.47},{"r":3,"p":"D","t":45,"y":0.45,"f":0.40,"l":0.34,"h":0.50},{"r":3,"p":"D","t":48,"y":0.41,"f":0.37,"l":0.31,"h":0.43},{"r":3,"p":"D","t":51,"y":0.36,"f":0.33,"l":0.28,"h":0.38},{"r":3,"p":"D","t":54,"y":0.30,"f":0.29,"l":0.25,"h":0.33},{"r":3,"p":"D","t":57,"y":0.25,"f":0.26,"l":0.22,"h":0.30},{"r":3,"p":"D","t":60,"y":0.25,"f":0.22,"l":0.19,"h":0.25},
{"r":3,"p":"I","t":0,"y":0,"f":0,"l":0,"h":0},{"r":3,"p":"I","t":3,"y":0,"f":0,"l":0,"h":0},{"r":3,"p":"I","t":6,"y":0,"f":0,"l":0,"h":0},{"r":3,"p":"I","t":9,"y":0,"f":0,"l":0,"h":0},{"r":3,"p":"I","t":12,"y":0,"f":0,"l":0,"h":0},{"r":3,"p":"I","t":15,"y":0,"f":0,"l":0,"h":0},{"r":3,"p":"I","t":18,"y":0,"f":0,"l":0,"h":0},{"r":3,"p":"I","t":21,"y":0,"f":0.01,"l":0.01,"h":0.01},{"r":3,"p":"I","t":24,"y":0.01,"f":0.01,"l":0.01,"h":0.01},{"r":3,"p":"I","t":27,"y":0.03,"f":0.03,"l":0.03,"h":0.03},{"r":3,"p":"I","t":30,"y":0.07,"f":0.08,"l":0.07,"h":0.09},{"r":3,"p":"I","t":33,"y":0.17,"f":0.18,"l":0.16,"h":0.20},{"r":3,"p":"I","t":36,"y":0.28,"f":0.33,"l":0.30,"h":0.36},{"r":3,"p":"I","t":39,"y":0.53,"f":0.57,"l":0.54,"h":0.60},{"r":3,"p":"I","t":42,"y":0.78,"f":0.79,"l":0.77,"h":0.81},{"r":3,"p":"I","t":45,"y":0.92,"f":0.92,"l":0.91,"h":0.93},{"r":3,"p":"I","t":48,"y":0.99,"f":0.97,"l":0.97,"h":0.97},{"r":3,"p":"I","t":51,"y":1,"f":0.99,"l":0.99,"h":0.99},{"r":3,"p":"I","t":54,"y":1,"f":1,"l":1,"h":1},{"r":3,"p":"I","t":57,"y":1,"f":1,"l":1,"h":1},{"r":3,"p":"I","t":60,"y":1,"f":1,"l":1,"h":1},
{"r":3,"p":"R","t":0,"y":0,"f":0,"l":0,"h":0},{"r":3,"p":"R","t":3,"y":0,"f":0,"l":0,"h":0},{"r":3,"p":"R","t":6,"y":0,"f":0.01,"l":0.01,"h":0.01},{"r":3,"p":"R","t":9,"y":0.01,"f":0.01,"l":0.01,"h":0.01},{"r":3,"p":"R","t":12,"y":0.01,"f":0.01,"l":0.01,"h":0.01},{"r":3,"p":"R","t":15,"y":0.01,"f":0.02,"l":0.02,"h":0.02},{"r":3,"p":"R","t":18,"y":0.02,"f":0.03,"l":0.03,"h":0.03},{"r":3,"p":"R","t":21,"y":0.03,"f":0.04,"l":0.04,"h":0.04},{"r":3,"p":"R","t":24,"y":0.03,"f":0.04,"l":0.04,"h":0.04},{"r":3,"p":"R","t":27,"y":0.06,"f":0.07,"l":0.06,"h":0.08},{"r":3,"p":"R","t":30,"y":0.10,"f":0.14,"l":0.13,"h":0.15},{"r":3,"p":"R","t":33,"y":0.22,"f":0.25,"l":0.23,"h":0.27},{"r":3,"p":"R","t":36,"y":0.43,"f":0.46,"l":0.43,"h":0.49},{"r":3,"p":"R","t":39,"y":0.75,"f":0.77,"l":0.75,"h":0.79},{"r":3,"p":"R","t":42,"y":0.93,"f":0.95,"l":0.94,"h":0.96},{"r":3,"p":"R","t":45,"y":0.98,"f":0.99,"l":0.99,"h":0.99},{"r":3,"p":"R","t":48,"y":1,"f":1,"l":1,"h":1},{"r":3,"p":"R","t":51,"y":1,"f":1,"l":1,"h":1},{"r":3,"p":"R","t":54,"y":1,"f":1,"l":1,"h":1},{"r":3,"p":"R","t":57,"y":1,"f":1,"l":1,"h":1},{"r":3,"p":"R","t":60,"y":1,"f":1,"l":1,"h":1},
{"r":3,"p":"S","t":0,"y":0,"f":0,"l":0,"h":0},{"r":3,"p":"S","t":3,"y":0,"f":0,"l":0,"h":0},{"r":3,"p":"S","t":6,"y":0.01,"f":0.01,"l":0.01,"h":0.01},{"r":3,"p":"S","t":9,"y":0.01,"f":0.02,"l":0.02,"h":0.02},{"r":3,"p":"S","t":12,"y":0.03,"f":0.04,"l":0.04,"h":0.04},{"r":3,"p":"S","t":15,"y":0.06,"f":0.07,"l":0.07,"h":0.07},{"r":3,"p":"S","t":18,"y":0.09,"f":0.09,"l":0.09,"h":0.09},{"r":3,"p":"S","t":21,"y":0.13,"f":0.12,"l":0.11,"h":0.13},{"r":3,"p":"S","t":24,"y":0.16,"f":0.16,"l":0.15,"h":0.17},{"r":3,"p":"S","t":27,"y":0.16,"f":0.20,"l":0.18,"h":0.22},{"r":3,"p":"S","t":30,"y":0.24,"f":0.30,"l":0.27,"h":0.33},{"r":3,"p":"S","t":33,"y":0.41,"f":0.45,"l":0.42,"h":0.48},{"r":3,"p":"S","t":36,"y":0.61,"f":0.63,"l":0.60,"h":0.66},{"r":3,"p":"S","t":39,"y":0.82,"f":0.80,"l":0.78,"h":0.82},{"r":3,"p":"S","t":42,"y":0.92,"f":0.91,"l":0.90,"h":0.92},{"r":3,"p":"S","t":45,"y":0.97,"f":0.96,"l":0.96,"h":0.96},{"r":3,"p":"S","t":48,"y":0.99,"f":0.98,"l":0.98,"h":0.98},{"r":3,"p":"S","t":51,"y":1,"f":0.99,"l":0.99,"h":0.99},{"r":3,"p":"S","t":54,"y":1,"f":0.99,"l":0.99,"h":0.99},{"r":3,"p":"S","t":57,"y":1,"f":1,"l":1,"h":1},{"r":3,"p":"S","t":60,"y":1,"f":1,"l":1,"h":1},
{"r":4,"p":"C","t":0,"y":0,"f":0,"l":0,"h":0},{"r":4,"p":"C","t":5,"y":0,"f":0,"l":0,"h":0},{"r":4,"p":"C","t":10,"y":0.01,"f":0.01,"l":0.01,"h":0.01},{"r":4,"p":"C","t":15,"y":0.02,"f":0.02,"l":0.02,"h":0.02},{"r":4,"p":"C","t":20,"y":0.04,"f":0.05,"l":0.04,"h":0.06},{"r":4,"p":"C","t":25,"y":0.11,"f":0.14,"l":0.12,"h":0.17},{"r":4,"p":"C","t":30,"y":0.31,"f":0.31,"l":0.26,"h":0.36},{"r":4,"p":"C","t":35,"y":0.57,"f":0.57,"l":0.52,"h":0.62},{"r":4,"p":"C","t":40,"y":0.75,"f":0.79,"l":0.75,"h":0.83},{"r":4,"p":"C","t":45,"y":0.90,"f":0.91,"l":0.90,"h":0.93},{"r":4,"p":"C","t":50,"y":0.96,"f":0.97,"l":0.96,"h":0.98},{"r":4,"p":"C","t":55,"y":0.99,"f":0.99,"l":0.99,"h":0.99},{"r":4,"p":"C","t":60,"y":1,"f":1,"l":1,"h":1},
{"r":4,"p":"D","t":0,"y":0,"f":0,"l":0,"h":0},{"r":4,"p":"D","t":5,"y":0,"f":0.01,"l":0.01,"h":0.01},{"r":4,"p":"D","t":10,"y":0.02,"f":0.02,"l":0.02,"h":0.02},{"r":4,"p":"D","t":15,"y":0.04,"f":0.05,"l":0.04,"h":0.06},{"r":4,"p":"D","t":20,"y":0.08,"f":0.10,"l":0.08,"h":0.12},{"r":4,"p":"D","t":25,"y":0.16,"f":0.18,"l":0.15,"h":0.21},{"r":4,"p":"D","t":30,"y":0.29,"f":0.27,"l":0.23,"h":0.31},{"r":4,"p":"D","t":35,"y":0.37,"f":0.35,"l":0.30,"h":0.40},{"r":4,"p":"D","t":40,"y":0.37,"f":0.40,"l":0.34,"h":0.46},{"r":4,"p":"D","t":45,"y":0.42,"f":0.40,"l":0.34,"h":0.46},{"r":4,"p":"D","t":50,"y":0.33,"f":0.34,"l":0.29,"h":0.39},{"r":4,"p":"D","t":55,"y":0.25,"f":0.28,"l":0.24,"h":0.32},{"r":4,"p":"D","t":60,"y":0.22,"f":0.22,"l":0.19,"h":0.25},
{"r":4,"p":"I","t":0,"y":0,"f":0,"l":0,"h":0},{"r":4,"p":"I","t":5,"y":0,"f":0,"l":0,"h":0},{"r":4,"p":"I","t":10,"y":0,"f":0,"l":0,"h":0},{"r":4,"p":"I","t":15,"y":0,"f":0,"l":0,"h":0},{"r":4,"p":"I","t":20,"y":0,"f":0,"l":0,"h":0},{"r":4,"p":"I","t":25,"y":0.03,"f":0.02,"l":0.02,"h":0.02},{"r":4,"p":"I","t":30,"y":0.10,"f":0.08,"l":0.07,"h":0.09},{"r":4,"p":"I","t":35,"y":0.31,"f":0.31,"l":0.28,"h":0.34},{"r":4,"p":"I","t":40,"y":0.64,"f":0.66,"l":0.63,"h":0.69},{"r":4,"p":"I","t":45,"y":0.91,"f":0.92,"l":0.91,"h":0.93},{"r":4,"p":"I","t":50,"y":0.98,"f":0.98,"l":0.98,"h":0.98},{"r":4,"p":"I","t":55,"y":1,"f":1,"l":1,"h":1},{"r":4,"p":"I","t":60,"y":1,"f":1,"l":1,"h":1},
{"r":4,"p":"R","t":0,"y":0,"f":0,"l":0,"h":0},{"r":4,"p":"R","t":5,"y":0,"f":0,"l":0,"h":0},{"r":4,"p":"R","t":10,"y":0.01,"f":0.01,"l":0.01,"h":0.01},{"r":4,"p":"R","t":15,"y":0.02,"f":0.02,"l":0.02,"h":0.02},{"r":4,"p":"R","t":20,"y":0.03,"f":0.04,"l":0.04,"h":0.04},{"r":4,"p":"R","t":25,"y":0.05,"f":0.05,"l":0.05,"h":0.05},{"r":4,"p":"R","t":30,"y":0.16,"f":0.17,"l":0.16,"h":0.18},{"r":4,"p":"R","t":35,"y":0.44,"f":0.42,"l":0.39,"h":0.45},{"r":4,"p":"R","t":40,"y":0.83,"f":0.85,"l":0.83,"h":0.87},{"r":4,"p":"R","t":45,"y":0.98,"f":0.99,"l":0.99,"h":0.99},{"r":4,"p":"R","t":50,"y":1,"f":1,"l":1,"h":1},{"r":4,"p":"R","t":55,"y":1,"f":1,"l":1,"h":1},{"r":4,"p":"R","t":60,"y":1,"f":1,"l":1,"h":1},
{"r":4,"p":"S","t":0,"y":0,"f":0,"l":0,"h":0},{"r":4,"p":"S","t":5,"y":0,"f":0.01,"l":0.01,"h":0.01},{"r":4,"p":"S","t":10,"y":0.02,"f":0.03,"l":0.03,"h":0.03},{"r":4,"p":"S","t":15,"y":0.05,"f":0.06,"l":0.06,"h":0.06},{"r":4,"p":"S","t":20,"y":0.09,"f":0.10,"l":0.09,"h":0.11},{"r":4,"p":"S","t":25,"y":0.16,"f":0.17,"l":0.15,"h":0.19},{"r":4,"p":"S","t":30,"y":0.34,"f":0.33,"l":0.29,"h":0.37},{"r":4,"p":"S","t":35,"y":0.64,"f":0.62,"l":0.58,"h":0.66},{"r":4,"p":"S","t":40,"y":0.86,"f":0.86,"l":0.84,"h":0.88},{"r":4,"p":"S","t":45,"y":0.96,"f":0.96,"l":0.95,"h":0.97},{"r":4,"p":"S","t":50,"y":0.99,"f":0.98,"l":0.98,"h":0.98},{"r":4,"p":"S","t":55,"y":0.99,"f":0.99,"l":0.99,"h":0.99},{"r":4,"p":"S","t":60,"y":1,"f":1,"l":1,"h":1},
{"r":5,"p":"C","t":0,"y":0,"f":0,"l":0,"h":0},{"r":5,"p":"C","t":5,"y":0,"f":0,"l":0,"h":0},{"r":5,"p":"C","t":10,"y":0,"f":0.01,"l":0.01,"h":0.01},{"r":5,"p":"C","t":15,"y":0.01,"f":0.02,"l":0.02,"h":0.02},{"r":5,"p":"C","t":20,"y":0.02,"f":0.05,"l":0.04,"h":0.06},{"r":5,"p":"C","t":25,"y":0.09,"f":0.13,"l":0.11,"h":0.15},{"r":5,"p":"C","t":30,"y":0.35,"f":0.31,"l":0.26,"h":0.36},{"r":5,"p":"C","t":35,"y":0.61,"f":0.56,"l":0.51,"h":0.61},{"r":5,"p":"C","t":40,"y":0.75,"f":0.79,"l":0.75,"h":0.83},{"r":5,"p":"C","t":45,"y":0.89,"f":0.91,"l":0.90,"h":0.92},{"r":5,"p":"C","t":50,"y":0.94,"f":0.97,"l":0.96,"h":0.98},{"r":5,"p":"C","t":55,"y":0.98,"f":0.99,"l":0.99,"h":0.99},{"r":5,"p":"C","t":60,"y":0.99,"f":1,"l":1,"h":1},
{"r":5,"p":"D","t":0,"y":0,"f":0,"l":0,"h":0},{"r":5,"p":"D","t":5,"y":0,"f":0.01,"l":0.01,"h":0.01},{"r":5,"p":"D","t":10,"y":0.01,"f":0.02,"l":0.02,"h":0.02},{"r":5,"p":"D","t":15,"y":0.04,"f":0.04,"l":0.03,"h":0.05},{"r":5,"p":"D","t":20,"y":0.07,"f":0.08,"l":0.07,"h":0.09},{"r":5,"p":"D","t":25,"y":0.14,"f":0.15,"l":0.12,"h":0.18},{"r":5,"p":"D","t":30,"y":0.32,"f":0.26,"l":0.21,"h":0.31},{"r":5,"p":"D","t":35,"y":0.44,"f":0.36,"l":0.30,"h":0.42},{"r":5,"p":"D","t":40,"y":0.40,"f":0.40,"l":0.33,"h":0.47},{"r":5,"p":"D","t":45,"y":0.45,"f":0.40,"l":0.33,"h":0.47},{"r":5,"p":"D","t":50,"y":0.34,"f":0.35,"l":0.29,"h":0.41},{"r":5,"p":"D","t":55,"y":0.21,"f":0.28,"l":0.23,"h":0.33},{"r":5,"p":"D","t":60,"y":0.22,"f":0.22,"l":0.18,"h":0.26},
{"r":5,"p":"I","t":0,"y":0,"f":0,"l":0,"h":0},{"r":5,"p":"I","t":5,"y":0,"f":0,"l":0,"h":0},{"r":5,"p":"I","t":10,"y":0,"f":0,"l":0,"h":0},{"r":5,"p":"I","t":15,"y":0,"f":0,"l":0,"h":0},{"r":5,"p":"I","t":20,"y":0,"f":0,"l":0,"h":0},{"r":5,"p":"I","t":25,"y":0.02,"f":0.02,"l":0.02,"h":0.02},{"r":5,"p":"I","t":30,"y":0.07,"f":0.08,"l":0.07,"h":0.09},{"r":5,"p":"I","t":35,"y":0.35,"f":0.31,"l":0.28,"h":0.34},{"r":5,"p":"I","t":40,"y":0.66,"f":0.68,"l":0.65,"h":0.71},{"r":5,"p":"I","t":45,"y":0.91,"f":0.92,"l":0.91,"h":0.93},{"r":5,"p":"I","t":50,"y":0.98,"f":0.98,"l":0.98,"h":0.98},{"r":5,"p":"I","t":55,"y":1,"f":1,"l":1,"h":1},{"r":5,"p":"I","t":60,"y":1,"f":1,"l":1,"h":1},
{"r":5,"p":"R","t":0,"y":0,"f":0,"l":0,"h":0},{"r":5,"p":"R","t":5,"y":0,"f":0,"l":0,"h":0},{"r":5,"p":"R","t":10,"y":0,"f":0.01,"l":0.01,"h":0.01},{"r":5,"p":"R","t":15,"y":0.02,"f":0.02,"l":0.02,"h":0.02},{"r":5,"p":"R","t":20,"y":0.02,"f":0.03,"l":0.03,"h":0.03},{"r":5,"p":"R","t":25,"y":0.04,"f":0.05,"l":0.05,"h":0.05},{"r":5,"p":"R","t":30,"y":0.12,"f":0.15,"l":0.14,"h":0.16},{"r":5,"p":"R","t":35,"y":0.43,"f":0.42,"l":0.39,"h":0.45},{"r":5,"p":"R","t":40,"y":0.83,"f":0.86,"l":0.84,"h":0.88},{"r":5,"p":"R","t":45,"y":0.98,"f":0.99,"l":0.99,"h":0.99},{"r":5,"p":"R","t":50,"y":1,"f":1,"l":1,"h":1},{"r":5,"p":"R","t":55,"y":1,"f":1,"l":1,"h":1},{"r":5,"p":"R","t":60,"y":1,"f":1,"l":1,"h":1},
{"r":5,"p":"S","t":0,"y":0,"f":0,"l":0,"h":0},{"r":5,"p":"S","t":5,"y":0,"f":0.01,"l":0.01,"h":0.01},{"r":5,"p":"S","t":10,"y":0.01,"f":0.03,"l":0.03,"h":0.03},{"r":5,"p":"S","t":15,"y":0.05,"f":0.06,"l":0.06,"h":0.06},{"r":5,"p":"S","t":20,"y":0.11,"f":0.10,"l":0.09,"h":0.11},{"r":5,"p":"S","t":25,"y":0.14,"f":0.17,"l":0.15,"h":0.19},{"r":5,"p":"S","t":30,"y":0.29,"f":0.33,"l":0.28,"h":0.38},{"r":5,"p":"S","t":35,"y":0.66,"f":0.62,"l":0.57,"h":0.67},{"r":5,"p":"S","t":40,"y":0.86,"f":0.86,"l":0.83,"h":0.89},{"r":5,"p":"S","t":45,"y":0.96,"f":0.96,"l":0.95,"h":0.97},{"r":5,"p":"S","t":50,"y":0.98,"f":0.98,"l":0.98,"h":0.98},{"r":5,"p":"S","t":55,"y":0.99,"f":0.99,"l":0.99,"h":0.99},{"r":5,"p":"S","t":60,"y":0.99,"f":1,"l":1,"h":1},
{"r":6,"p":"C","t":0,"y":0,"f":0,"l":0,"h":0},{"r":6,"p":"C","t":7,"y":0,"f":0,"l":0,"h":0},{"r":6,"p":"C","t":14,"y":0.01,"f":0.02,"l":0.02,"h":0.02},{"r":6,"p":"C","t":21,"y":0.06,"f":0.07,"l":0.06,"h":0.08},{"r":6,"p":"C","t":28,"y":0.19,"f":0.22,"l":0.17,"h":0.27},{"r":6,"p":"C","t":35,"y":0.56,"f":0.57,"l":0.51,"h":0.63},{"r":6,"p":"C","t":42,"y":0.82,"f":0.84,"l":0.80,"h":0.89},{"r":6,"p":"C","t":49,"y":0.96,"f":0.95,"l":0.94,"h":0.97},{"r":6,"p":"C","t":56,"y":0.99,"f":0.99,"l":0.99,"h":0.99},
{"r":6,"p":"D","t":0,"y":0,"f":0,"l":0,"h":0},{"r":6,"p":"D","t":7,"y":0.01,"f":0.01,"l":0.01,"h":0.01},{"r":6,"p":"D","t":14,"y":0.03,"f":0.04,"l":0.03,"h":0.05},{"r":6,"p":"D","t":21,"y":0.11,"f":0.11,"l":0.09,"h":0.13},{"r":6,"p":"D","t":28,"y":0.20,"f":0.23,"l":0.19,"h":0.27},{"r":6,"p":"D","t":35,"y":0.38,"f":0.35,"l":0.29,"h":0.41},{"r":6,"p":"D","t":42,"y":0.40,"f":0.40,"l":0.33,"h":0.47},{"r":6,"p":"D","t":49,"y":0.36,"f":0.36,"l":0.30,"h":0.42},{"r":6,"p":"D","t":56,"y":0.24,"f":0.26,"l":0.21,"h":0.31},
{"r":6,"p":"I","t":0,"y":0,"f":0,"l":0,"h":0},{"r":6,"p":"I","t":7,"y":0,"f":0,"l":0,"h":0},{"r":6,"p":"I","t":14,"y":0,"f":0,"l":0,"h":0},{"r":6,"p":"I","t":21,"y":0.01,"f":0.01,"l":0.01,"h":0.01},{"r":6,"p":"I","t":28,"y":0.05,"f":0.05,"l":0.04,"h":0.06},{"r":6,"p":"I","t":35,"y":0.30,"f":0.31,"l":0.27,"h":0.35},{"r":6,"p":"I","t":42,"y":0.79,"f":0.81,"l":0.77,"h":0.85},{"r":6,"p":"I","t":49,"y":0.97,"f":0.98,"l":0.97,"h":0.99},{"r":6,"p":"I","t":56,"y":1,"f":1,"l":1,"h":1},
{"r":6,"p":"R","t":0,"y":0,"f":0,"l":0,"h":0},{"r":6,"p":"R","t":7,"y":0,"f":0.01,"l":0.01,"h":0.01},{"r":6,"p":"R","t":14,"y":0.01,"f":0.02,"l":0.02,"h":0.02},{"r":6,"p":"R","t":21,"y":0.03,"f":0.04,"l":0.04,"h":0.04},{"r":6,"p":"R","t":28,"y":0.09,"f":0.09,"l":0.08,"h":0.10},{"r":6,"p":"R","t":35,"y":0.39,"f":0.40,"l":0.37,"h":0.43},{"r":6,"p":"R","t":42,"y":0.90,"f":0.92,"l":0.90,"h":0.94},{"r":6,"p":"R","t":49,"y":0.99,"f":1,"l":1,"h":1},{"r":6,"p":"R","t":56,"y":1,"f":1,"l":1,"h":1},
{"r":6,"p":"S","t":0,"y":0,"f":0,"l":0,"h":0},{"r":6,"p":"S","t":7,"y":0,"f":0.02,"l":0.02,"h":0.02},{"r":6,"p":"S","t":14,"y":0.03,"f":0.06,"l":0.06,"h":0.06},{"r":6,"p":"S","t":21,"y":0.11,"f":0.12,"l":0.11,"h":0.13},{"r":6,"p":"S","t":28,"y":0.21,"f":0.24,"l":0.21,"h":0.27},{"r":6,"p":"S","t":35,"y":0.58,"f":0.58,"l":0.54,"h":0.62},{"r":6,"p":"S","t":42,"y":0.92,"f":0.91,"l":0.89,"h":0.93},{"r":6,"p":"S","t":49,"y":0.98,"f":0.97,"l":0.96,"h":0.98},{"r":6,"p":"S","t":56,"y":0.99,"f":0.99,"l":0.99,"h":0.99},
{"r":7,"p":"C","t":0,"y":0,"f":0,"l":0,"h":0},{"r":7,"p":"C","t":7,"y":0,"f":0,"l":0,"h":0},{"r":7,"p":"C","t":14,"y":0.01,"f":0.02,"l":0.02,"h":0.02},{"r":7,"p":"C","t":21,"y":0.07,"f":0.07,"l":0.06,"h":0.08},{"r":7,"p":"C","t":28,"y":0.14,"f":0.21,"l":0.16,"h":0.26},{"r":7,"p":"C","t":35,"y":0.52,"f":0.55,"l":0.49,"h":0.61},{"r":7,"p":"C","t":42,"y":0.83,"f":0.84,"l":0.81,"h":0.90},{"r":7,"p":"C","t":49,"y":0.96,"f":0.95,"l":0.94,"h":0.98},{"r":7,"p":"C","t":56,"y":0.99,"f":0.99,"l":0.99,"h":0.99},
{"r":7,"p":"D","t":0,"y":0,"f":0,"l":0,"h":0},{"r":7,"p":"D","t":7,"y":0,"f":0.01,"l":0.01,"h":0.01},{"r":7,"p":"D","t":14,"y":0.02,"f":0.04,"l":0.03,"h":0.05},{"r":7,"p":"D","t":21,"y":0.12,"f":0.11,"l":0.09,"h":0.13},{"r":7,"p":"D","t":28,"y":0.18,"f":0.22,"l":0.18,"h":0.26},{"r":7,"p":"D","t":35,"y":0.42,"f":0.36,"l":0.29,"h":0.43},{"r":7,"p":"D","t":42,"y":0.47,"f":0.39,"l":0.31,"h":0.47},{"r":7,"p":"D","t":49,"y":0.35,"f":0.36,"l":0.29,"h":0.43},{"r":7,"p":"D","t":56,"y":0.20,"f":0.28,"l":0.22,"h":0.34},
{"r":7,"p":"I","t":0,"y":0,"f":0,"l":0,"h":0},{"r":7,"p":"I","t":7,"y":0,"f":0,"l":0,"h":0},{"r":7,"p":"I","t":14,"y":0,"f":0,"l":0,"h":0},{"r":7,"p":"I","t":21,"y":0.01,"f":0.01,"l":0.01,"h":0.01},{"r":7,"p":"I","t":28,"y":0.02,"f":0.05,"l":0.04,"h":0.06},{"r":7,"p":"I","t":35,"y":0.20,"f":0.29,"l":0.25,"h":0.33},{"r":7,"p":"I","t":42,"y":0.77,"f":0.80,"l":0.76,"h":0.84},{"r":7,"p":"I","t":49,"y":0.98,"f":0.98,"l":0.97,"h":0.99},{"r":7,"p":"I","t":56,"y":1,"f":1,"l":1,"h":1},
{"r":7,"p":"R","t":0,"y":0,"f":0,"l":0,"h":0},{"r":7,"p":"R","t":7,"y":0,"f":0.01,"l":0.01,"h":0.01},{"r":7,"p":"R","t":14,"y":0.01,"f":0.02,"l":0.02,"h":0.02},{"r":7,"p":"R","t":21,"y":0.03,"f":0.04,"l":0.04,"h":0.04},{"r":7,"p":"R","t":28,"y":0.06,"f":0.09,"l":0.08,"h":0.10},{"r":7,"p":"R","t":35,"y":0.24,"f":0.40,"l":0.30,"h":0.44},{"r":7,"p":"R","t":42,"y":0.80,"f":0.94,"l":0.86,"h":0.96},{"r":7,"p":"R","t":49,"y":0.99,"f":1,"l":1,"h":1},{"r":7,"p":"R","t":56,"y":1,"f":1,"l":1,"h":1},
{"r":7,"p":"S","t":0,"y":0,"f":0,"l":0,"h":0},{"r":7,"p":"S","t":7,"y":0,"f":0.02,"l":0.02,"h":0.02},{"r":7,"p":"S","t":14,"y":0.02,"f":0.06,"l":0.06,"h":0.06},{"r":7,"p":"S","t":21,"y":0.13,"f":0.12,"l":0.11,"h":0.13},{"r":7,"p":"S","t":28,"y":0.19,"f":0.24,"l":0.20,"h":0.28},{"r":7,"p":"S","t":35,"y":0.50,"f":0.58,"l":0.53,"h":0.63},{"r":7,"p":"S","t":42,"y":0.90,"f":0.92,"l":0.90,"h":0.94},{"r":7,"p":"S","t":49,"y":0.98,"f":0.97,"l":0.96,"h":0.98},{"r":7,"p":"S","t":56,"y":0.99,"f":0.99,"l":0.99,"h":0.99},
{"r":8,"p":"C","t":0,"y":0,"f":0,"l":0,"h":0},{"r":8,"p":"C","t":9,"y":0.01,"f":0.01,"l":0.01,"h":0.01},{"r":8,"p":"C","t":18,"y":0.03,"f":0.04,"l":0.03,"h":0.05},{"r":8,"p":"C","t":27,"y":0.16,"f":0.18,"l":0.15,"h":0.21},{"r":8,"p":"C","t":36,"y":0.55,"f":0.60,"l":0.53,"h":0.67},{"r":8,"p":"C","t":45,"y":0.92,"f":0.89,"l":0.86,"h":0.97},{"r":8,"p":"C","t":54,"y":1,"f":0.98,"l":0.97,"h":0.99},
{"r":8,"p":"D","t":0,"y":0,"f":0,"l":0,"h":0},{"r":8,"p":"D","t":9,"y":0.02,"f":0.01,"l":0.01,"h":0.01},{"r":8,"p":"D","t":18,"y":0.07,"f":0.07,"l":0.05,"h":0.09},{"r":8,"p":"D","t":27,"y":0.20,"f":0.21,"l":0.16,"h":0.26},{"r":8,"p":"D","t":36,"y":0.34,"f":0.36,"l":0.28,"h":0.44},{"r":8,"p":"D","t":45,"y":0.43,"f":0.39,"l":0.33,"h":0.50},{"r":8,"p":"D","t":54,"y":0.31,"f":0.31,"l":0.22,"h":0.40},
{"r":8,"p":"I","t":0,"y":0,"f":0,"l":0,"h":0},{"r":8,"p":"I","t":9,"y":0,"f":0,"l":0,"h":0},{"r":8,"p":"I","t":18,"y":0,"f":0,"l":0,"h":0},{"r":8,"p":"I","t":27,"y":0.04,"f":0.04,"l":0.03,"h":0.05},{"r":8,"p":"I","t":36,"y":0.32,"f":0.36,"l":0.32,"h":0.40},{"r":8,"p":"I","t":45,"y":0.92,"f":0.90,"l":0.88,"h":0.92},{"r":8,"p":"I","t":54,"y":1,"f":0.99,"l":0.99,"h":0.99},
{"r":8,"p":"R","t":0,"y":0,"f":0,"l":0,"h":0},{"r":8,"p":"R","t":9,"y":0,"f":0,"l":0,"h":0},{"r":8,"p":"R","t":18,"y":0.03,"f":0.02,"l":0.02,"h":0.02},{"r":8,"p":"R","t":27,"y":0.07,"f":0.07,"l":0.06,"h":0.08},{"r":8,"p":"R","t":36,"y":0.43,"f":0.53,"l":0.49,"h":0.57},{"r":8,"p":"R","t":45,"y":0.95,"f":0.99,"l":0.98,"h":1},{"r":8,"p":"R","t":54,"y":1,"f":1,"l":1,"h":1},
{"r":8,"p":"S","t":0,"y":0,"f":0,"l":0,"h":0},{"r":8,"p":"S","t":9,"y":0.01,"f":0.01,"l":0.01,"h":0.01},{"r":8,"p":"S","t":18,"y":0.08,"f":0.08,"l":0.07,"h":0.09},{"r":8,"p":"S","t":27,"y":0.20,"f":0.20,"l":0.17,"h":0.23},{"r":8,"p":"S","t":36,"y":0.65,"f":0.63,"l":0.59,"h":0.67},{"r":8,"p":"S","t":45,"y":0.96,"f":0.95,"l":0.94,"h":0.96},{"r":8,"p":"S","t":54,"y":1,"f":0.99,"l":0.99,"h":0.99},
{"r":9,"p":"C","t":0,"y":0,"f":0,"l":0,"h":0},{"r":9,"p":"C","t":9,"y":0.01,"f":0.01,"l":0.01,"h":0.01},{"r":9,"p":"C","t":18,"y":0.03,"f":0.03,"l":0.02,"h":0.04},{"r":9,"p":"C","t":27,"y":0.13,"f":0.18,"l":0.15,"h":0.21},{"r":9,"p":"C","t":36,"y":0.50,"f":0.57,"l":0.50,"h":0.64},{"r":9,"p":"C","t":45,"y":0.92,"f":0.89,"l":0.86,"h":0.96},{"r":9,"p":"C","t":54,"y":1,"f":0.98,"l":0.97,"h":0.99},
{"r":9,"p":"D","t":0,"y":0,"f":0,"l":0,"h":0},{"r":9,"p":"D","t":9,"y":0.01,"f":0.01,"l":0.01,"h":0.01},{"r":9,"p":"D","t":18,"y":0.07,"f":0.07,"l":0.05,"h":0.09},{"r":9,"p":"D","t":27,"y":0.16,"f":0.20,"l":0.15,"h":0.25},{"r":9,"p":"D","t":36,"y":0.29,"f":0.36,"l":0.27,"h":0.45},{"r":9,"p":"D","t":45,"y":0.46,"f":0.39,"l":0.30,"h":0.50},{"r":9,"p":"D","t":54,"y":0.35,"f":0.31,"l":0.23,"h":0.39},
{"r":9,"p":"I","t":0,"y":0,"f":0,"l":0,"h":0},{"r":9,"p":"I","t":9,"y":0,"f":0,"l":0,"h":0},{"r":9,"p":"I","t":18,"y":0,"f":0,"l":0,"h":0},{"r":9,"p":"I","t":27,"y":0.03,"f":0.03,"l":0.02,"h":0.04},{"r":9,"p":"I","t":36,"y":0.28,"f":0.33,"l":0.29,"h":0.37},{"r":9,"p":"I","t":45,"y":0.92,"f":0.90,"l":0.88,"h":0.92},{"r":9,"p":"I","t":54,"y":1,"f":0.99,"l":0.99,"h":0.99},
{"r":9,"p":"R","t":0,"y":0,"f":0,"l":0,"h":0},{"r":9,"p":"R","t":9,"y":0.01,"f":0.01,"l":0.01,"h":0.01},{"r":9,"p":"R","t":18,"y":0.03,"f":0.02,"l":0.02,"h":0.02},{"r":9,"p":"R","t":27,"y":0.05,"f":0.05,"l":0.04,"h":0.06},{"r":9,"p":"R","t":36,"y":0.32,"f":0.52,"l":0.44,"h":0.56},{"r":9,"p":"R","t":45,"y":0.92,"f":0.98,"l":0.95,"h":1},{"r":9,"p":"R","t":54,"y":1,"f":1,"l":1,"h":1},
{"r":9,"p":"S","t":0,"y":0,"f":0,"l":0,"h":0},{"r":9,"p":"S","t":9,"y":0.01,"f":0.01,"l":0.01,"h":0.01},{"r":9,"p":"S","t":18,"y":0.07,"f":0.07,"l":0.06,"h":0.08},{"r":9,"p":"S","t":27,"y":0.21,"f":0.20,"l":0.17,"h":0.23},{"r":9,"p":"S","t":36,"y":0.61,"f":0.62,"l":0.57,"h":0.67},{"r":9,"p":"S","t":45,"y":0.95,"f":0.94,"l":0.93,"h":0.95},{"r":9,"p":"S","t":54,"y":1,"f":0.99,"l":0.99,"h":0.99}
]},
"facet": {
  "row": {"field": "r", "type": "ordinal", "title": "Disease intensity",
    "header": {"labelExpr": "['Δt = ' + ['1','1','3','3','5','5','7','7','9','9'][datum.value], 'α = ' + (datum.value % 2 == 0 ? '0.10' : '0.25')]",
      "labelAngle": 90, "labelOrient": "right", "labelFontSize": 20, "labelColor": "#1A1A1A", "labelPadding": 4, "labelLineHeight": 36, "labelFont": "Liberation Sans",
      "titleOrient": "left", "titleAngle": -90, "titleFontSize": 27, "titleFontWeight": "normal", "titleColor": "#000000", "titleFont": "Liberation Sans", "titlePadding": -33}},
  "column": {"field": "p", "type": "nominal", "title": "Time", "sort": ["C","D","I","R","S"],
    "header": {"labelExpr": "{'C':'Constant','D':'Decreasing','I':'Increasing','R':'Random','S':'Sinusoidal'}[datum.value]",
      "labelFontSize": 21.5, "labelColor": "#1A1A1A", "labelPadding": 4, "labelFont": "Liberation Sans",
      "titleOrient": "bottom", "titleFontSize": 27, "titleFontWeight": "normal", "titleColor": "#000000", "titleFont": "Liberation Sans", "titlePadding": -5}}
},
"spacing": {"row": 10, "column": 10},
"spec": {
  "width": 160, "height": 131,
  "encoding": {
    "x": {"field": "t", "type": "quantitative", "title": null,
      "scale": {"domain": [-3, 63], "nice": false, "zero": false},
      "axis": {"values": [0,10,20,30,40,50,60], "labelExpr": "datum.value % 20 == 0 ? datum.label : ''", "labelFlush": false, "labelPadding": 5,
        "gridColor": {"condition": {"test": "datum.value % 20 == 0", "value": "#DEDEDE"}, "value": "#EBEBEB"},
        "gridWidth": {"condition": {"test": "datum.value % 20 == 0", "value": 1}, "value": 0.6},
        "tickOpacity": {"condition": {"test": "datum.value % 20 == 0", "value": 1}, "value": 0}}}
  },
  "layer": [
    {"mark": {"type": "area", "color": "#A6A6A6", "opacity": 0.45},
     "encoding": {
       "y": {"field": "l", "type": "quantitative", "title": null, "scale": {"domain": [-0.05, 1.05], "nice": false, "zero": false},
         "axis": {"values": [0,0.125,0.25,0.375,0.5,0.625,0.75,0.875,1], "labelExpr": "datum.value * 4 % 1 == 0 ? format(datum.value, '.2f') : ''",
           "gridColor": {"condition": {"test": "datum.value * 4 % 1 == 0", "value": "#DEDEDE"}, "value": "#EBEBEB"},
           "gridWidth": {"condition": {"test": "datum.value * 4 % 1 == 0", "value": 1}, "value": 0.6},
           "tickOpacity": {"condition": {"test": "datum.value * 4 % 1 == 0", "value": 1}, "value": 0}}},
       "y2": {"field": "h"}}},
    {"mark": {"type": "line", "strokeWidth": 3.5},
     "encoding": {
       "y": {"field": "f", "type": "quantitative", "title": null, "scale": {"domain": [-0.05, 1.05], "nice": false, "zero": false},
         "axis": {"values": [0,0.125,0.25,0.375,0.5,0.625,0.75,0.875,1], "labelExpr": "datum.value * 4 % 1 == 0 ? format(datum.value, '.2f') : ''",
           "gridColor": {"condition": {"test": "datum.value * 4 % 1 == 0", "value": "#DEDEDE"}, "value": "#EBEBEB"},
           "gridWidth": {"condition": {"test": "datum.value * 4 % 1 == 0", "value": 1}, "value": 0.6},
           "tickOpacity": {"condition": {"test": "datum.value * 4 % 1 == 0", "value": 1}, "value": 0}}},
       "color": {"field": "p", "type": "nominal", "legend": null, "scale": {"domain": ["C","D","I","R","S"], "range": ["#000000","#E69F00","#56B4E9","#009E73","#F0E442"]}}}},
    {"transform": [{"filter": "datum.r < 2"}],
     "mark": {"type": "line", "strokeWidth": 3.5},
     "encoding": {
       "y": {"field": "y", "type": "quantitative", "title": null, "scale": {"domain": [-0.05, 1.05], "nice": false, "zero": false},
         "axis": {"values": [0,0.125,0.25,0.375,0.5,0.625,0.75,0.875,1], "labelExpr": "datum.value * 4 % 1 == 0 ? format(datum.value, '.2f') : ''",
           "gridColor": {"condition": {"test": "datum.value * 4 % 1 == 0", "value": "#DEDEDE"}, "value": "#EBEBEB"},
           "gridWidth": {"condition": {"test": "datum.value * 4 % 1 == 0", "value": 1}, "value": 0.6},
           "tickOpacity": {"condition": {"test": "datum.value * 4 % 1 == 0", "value": 1}, "value": 0}}},
       "color": {"field": "p", "type": "nominal", "legend": null, "scale": {"domain": ["C","D","I","R","S"], "range": ["#000000","#E69F00","#56B4E9","#009E73","#F0E442"]}}}},
    {"mark": {"type": "point", "filled": true, "color": "#000000", "opacity": 0.72, "size": 40},
     "encoding": {
       "y": {"field": "y", "type": "quantitative", "title": null, "scale": {"domain": [-0.05, 1.05], "nice": false, "zero": false},
         "axis": {"values": [0,0.125,0.25,0.375,0.5,0.625,0.75,0.875,1], "labelExpr": "datum.value * 4 % 1 == 0 ? format(datum.value, '.2f') : ''",
           "gridColor": {"condition": {"test": "datum.value * 4 % 1 == 0", "value": "#DEDEDE"}, "value": "#EBEBEB"},
           "gridWidth": {"condition": {"test": "datum.value * 4 % 1 == 0", "value": 1}, "value": 0.6},
           "tickOpacity": {"condition": {"test": "datum.value * 4 % 1 == 0", "value": 1}, "value": 0}}}}}
  ]
},
"config": {
  "font": "Liberation Sans",
  "view": {"stroke": "#B3B3B3", "strokeWidth": 1},
  "axis": {"domain": false, "tickColor": "#B3B3B3", "tickSize": 4, "labelFontSize": 20.5, "labelColor": "#4D4D4D", "labelPadding": 3,
    "labelFont": "Liberation Sans"}
}
}
